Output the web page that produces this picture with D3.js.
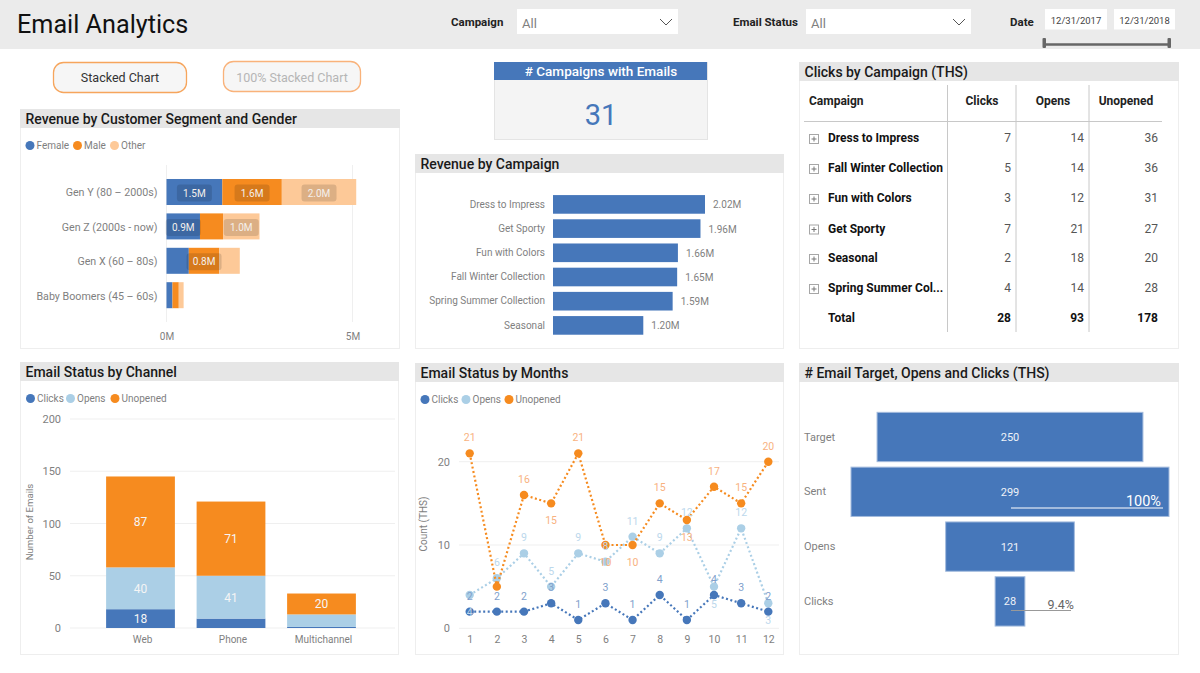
<!DOCTYPE html>
<html>
<head>
<meta charset="utf-8">
<script src="https://cdn.jsdelivr.net/npm/d3@7"></script>
<style>
  html, body { margin: 0; padding: 0; background: #fff; overflow: hidden; }
  text { font-family: Roboto, sans-serif; }
</style>
</head>
<body>
<div id="dash"></div>
<script>
// data
const segments = ["Gen Y (80 – 2000s)", "Gen Z (2000s - now)", "Gen X (60 – 80s)", "Baby Boomers (45 – 60s)"];
const female = [1.5, 0.9, 0.6, 0.16];
const male = [1.6, 0.62, 0.82, 0.17];
const other = [2.0, 0.98, 0.55, 0.13];
const genderKeys = ["Female", "Male", "Other"];
const genderTicks = [0, 5];

const campaignsByRevenue = ["Dress to Impress", "Get Sporty", "Fun with Colors", "Fall Winter Collection", "Spring Summer Collection", "Seasonal"];
const campaignRevenue = [2.02, 1.96, 1.66, 1.65, 1.59, 1.20];

const tableColumns = ["Campaign", "Clicks", "Opens", "Unopened"];
const tableCampaigns = ["Dress to Impress", "Fall Winter Collection", "Fun with Colors", "Get Sporty", "Seasonal", "Spring Summer Col..."];
const tableClicks = [7, 5, 3, 7, 2, 4];
const tableOpens = [14, 14, 12, 21, 18, 14];
const tableUnopened = [36, 36, 31, 27, 20, 28];
const tableTotals = [28, 93, 178];

const channels = ["Web", "Phone", "Multichannel"];
const channelClicks = [18, 9, 1];
const channelOpens = [40, 41, 12];
const channelUnopened = [87, 71, 20];
const channelTicks = [0, 50, 100, 150, 200];
const statusKeys = ["Clicks", "Opens", "Unopened"];

const months = [1, 2, 3, 4, 5, 6, 7, 8, 9, 10, 11, 12];
const monthClicks = [2, 2, 2, 3, 1, 3, 1, 4, 1, 4, 3, 2];
const monthOpens = [4, 6, 9, 5, 9, 8, 11, 9, 12, 5, 12, 3];
const monthUnopened = [21, 5, 16, 15, 21, 10, 10, 15, 13, 17, 15, 20];
const monthTicks = [0, 10, 20];

const funnelStages = ["Target", "Sent", "Opens", "Clicks"];
const funnelValues = [250, 299, 121, 28];

// colours
const blue = "#4677ba", orange = "#f68b1f", paleOrange = "#fdc998", paleBlue = "#abcfe6";
const grey = "#7f7f7f", headFill = "#e6e6e6", gridCol = "#efefef", frameCol = "#eeeeee";

const svg = d3.select("#dash").append("svg")
    .attr("width", 1200)
    .attr("height", 673);

function label(g, x, y, txt, size, fill, anchor, weight) {
  return g.append("text")
    .attr("x", x).attr("y", y)
    .attr("text-anchor", anchor || "start")
    .attr("font-size", size)
    .attr("font-weight", weight || 400)
    .attr("fill", fill)
    .text(txt);
}

function panel(x0, x1, y0, y1, title) {
  svg.append("rect").attr("x", x0 + .5).attr("y", y0 + .5).attr("width", x1 - x0).attr("height", y1 - y0)
    .attr("fill", "#fff").attr("stroke", frameCol);
  svg.append("rect").attr("x", x0).attr("y", y0).attr("width", x1 - x0 + 1).attr("height", 19).attr("fill", headFill);
  label(svg, x0 + 5.5, y0 + 15, title, 14, "#1a1a1a", "start", 500);
}

function legend(items, y) {
  items.forEach(d => {
    svg.append("circle").attr("cx", d.cx).attr("cy", y).attr("r", 4.5).attr("fill", d.color);
    label(svg, d.cx + 6.5, y + 3.6, d.name, 10, grey);
  });
}

function cleanAxis(g, size) {
  g.select(".domain").remove();
  g.selectAll(".tick line").remove();
  g.selectAll("text").attr("font-size", size).attr("fill", grey);
}

// header band
svg.append("rect").attr("width", 1200).attr("height", 49).attr("fill", "#ebebeb");
label(svg, 17, 33, "Email Analytics", 25.2, "#111");

function slicer(name, nameX, x0, x1) {
  label(svg, nameX, 26, name, 11.5, "#222", "start", 700);
  svg.append("rect").attr("x", x0).attr("y", 9).attr("width", x1 - x0).attr("height", 25).attr("fill", "#fff");
  label(svg, x0 + 5, 28, "All", 13, grey);
  svg.append("path").attr("d", `M${x1 - 18},19 l6,6 l6,-6`).attr("fill", "none").attr("stroke", "#555");
}
slicer("Campaign", 451, 517, 678);
slicer("Email Status", 733, 806, 971);
label(svg, 1010, 26, "Date", 11.5, "#222", "start", 700);
[[1045, 1107, "12/31/2017"], [1114, 1175, "12/31/2018"]].forEach(d => {
  svg.append("rect").attr("x", d[0]).attr("y", 9).attr("width", d[1] - d[0]).attr("height", 20.5).attr("fill", "#fff");
  label(svg, (d[0] + d[1]) / 2, 24, d[2], 9.5, "#444", "middle");
});
svg.append("line").attr("x1", 1044).attr("x2", 1169).attr("y1", 44.5).attr("y2", 44.5).attr("stroke", "#666").attr("stroke-width", 2.5);
[1044, 1169].forEach(x => svg.append("rect").attr("x", x - 1.5).attr("y", 38).attr("width", 3.5).attr("height", 10).attr("rx", 1).attr("fill", "#666"));

// buttons
svg.append("rect").attr("x", 53.5).attr("y", 62.5).attr("width", 133).attr("height", 30).attr("rx", 10)
  .attr("fill", "#f6f6f6").attr("stroke", "#f6a55c").attr("stroke-width", 1.3);
label(svg, 120, 82, "Stacked Chart", 12.5, "#333", "middle");
svg.append("rect").attr("x", 223.5).attr("y", 61.5).attr("width", 137).attr("height", 30).attr("rx", 10)
  .attr("fill", "#f6f6f6").attr("stroke", "#f9b27a").attr("stroke-width", 1.3);
label(svg, 292, 82, "100% Stacked Chart", 12.5, "#b5b5b5", "middle");

// card
svg.append("rect").attr("x", 494.5).attr("y", 62.5).attr("width", 213).attr("height", 77).attr("fill", "#f4f4f4").attr("stroke", "#e4e4e4");
svg.append("rect").attr("x", 494).attr("y", 62).attr("width", 213).attr("height", 18).attr("fill", blue);
label(svg, 601, 76, "# Campaigns with Emails", 13.5, "#fff", "middle", 500);
label(svg, 601, 125, "31", 29, blue, "middle");

// Revenue by Customer Segment and Gender
panel(20, 399, 109, 348, "Revenue by Customer Segment and Gender");
legend([{cx: 30, name: "Female", color: blue}, {cx: 77.5, name: "Male", color: orange}, {cx: 114.5, name: "Other", color: paleOrange}], 145.5);

const genderRows = segments.map((s, i) => ({segment: s, Female: female[i], Male: male[i], Other: other[i]}));
const genderStack = d3.stack().keys(genderKeys)(genderRows);
const xGender = d3.scaleLinear().domain([0, 5]).range([166.5, 352.5]);
const yGender = d3.scaleBand().domain(segments).range([174.8, 312.4]).paddingInner(.244).paddingOuter(.122);
const genderColor = d3.scaleOrdinal().domain(genderKeys).range([blue, orange, paleOrange]);

svg.append("g").selectAll("line").data(genderTicks).join("line")
    .attr("x1", d => xGender(d)).attr("x2", d => xGender(d))
    .attr("y1", 165).attr("y2", 322)
    .attr("stroke", gridCol);
svg.append("g").selectAll("g").data(genderStack).join("g")
    .attr("fill", d => genderColor(d.key))
  .selectAll("rect").data(d => d).join("rect")
    .attr("x", d => xGender(d[0]))
    .attr("y", d => yGender(d.data.segment))
    .attr("width", d => xGender(d[1]) - xGender(d[0]))
    .attr("height", yGender.bandwidth());

// only these segments carry a label in the picture
const genderLabelled = [[0, 0], [1, 0], [2, 0], [0, 1], [2, 1], [1, 2]];
genderLabelled.forEach(([k, r]) => {
  const d = genderStack[k][r];
  const cx = (xGender(d[0]) + xGender(d[1])) / 2;
  const cy = yGender(d.data.segment) + yGender.bandwidth() / 2 + 1;
  svg.append("rect").attr("x", cx - 17.5).attr("y", cy - 8.5).attr("width", 35).attr("height", 17).attr("rx", 3)
    .attr("fill", "#000").attr("fill-opacity", .13);
  label(svg, cx, cy + 3.6, (d[1] - d[0]).toFixed(1) + "M", 10, "#f4f0ec", "middle");
});
svg.append("g").attr("transform", "translate(166.5,1)")
  .call(d3.axisLeft(yGender).tickPadding(3))
  .call(g => cleanAxis(g, 10.7));
svg.append("g").attr("transform", "translate(0,324)")
  .call(d3.axisBottom(xGender).tickValues(genderTicks).tickFormat(d => d + "M"))
  .call(g => cleanAxis(g, 10));

// Revenue by Campaign
panel(415, 783, 154, 348, "Revenue by Campaign");
const xCampaign = d3.scaleLinear().domain([0, 2.02]).range([553, 705]);
const yCampaign = d3.scaleBand().domain(campaignsByRevenue).range([192.3, 337.5]).paddingInner(.23).paddingOuter(.115);
svg.append("g").selectAll("rect").data(campaignRevenue).join("rect")
    .attr("x", xCampaign(0))
    .attr("y", (d, i) => yCampaign(campaignsByRevenue[i]))
    .attr("width", d => xCampaign(d) - xCampaign(0))
    .attr("height", yCampaign.bandwidth())
    .attr("fill", blue);
svg.append("g").selectAll("text").data(campaignRevenue).join("text")
    .attr("x", d => xCampaign(d) + 8)
    .attr("y", (d, i) => yCampaign(campaignsByRevenue[i]) + yCampaign.bandwidth() / 2 + 4)
    .attr("font-size", 10).attr("fill", grey)
    .text(d => d.toFixed(2) + "M");
svg.append("g").attr("transform", "translate(553,0)")
  .call(d3.axisLeft(yCampaign).tickPadding(2))
  .call(g => cleanAxis(g, 10));

// Clicks by Campaign table
panel(799, 1178, 62, 348, "Clicks by Campaign (THS)");
const colSep = [947.5, 1016, 1089];
const rowY = [142, 172, 202, 232.5, 262, 292];
colSep.forEach(x => svg.append("line").attr("x1", x).attr("x2", x).attr("y1", 85).attr("y2", 332).attr("stroke", "#c8c8c8"));
svg.append("line").attr("x1", 804).attr("x2", 1162).attr("y1", 121.5).attr("y2", 121.5).attr("stroke", "#c8c8c8");
label(svg, 809, 105, tableColumns[0], 12, "#222", "start", 700);
label(svg, 982, 105, tableColumns[1], 12, "#222", "middle", 700);
label(svg, 1053, 105, tableColumns[2], 12, "#222", "middle", 700);
label(svg, 1126, 105, tableColumns[3], 12, "#222", "middle", 700);
tableCampaigns.forEach((name, i) => {
  const y = rowY[i];
  svg.append("rect").attr("x", 809.5).attr("y", y - 7.5).attr("width", 9).attr("height", 9).attr("fill", "#fff").attr("stroke", "#a6a6a6");
  svg.append("path").attr("d", `M811.5,${y - 3}h5M814,${y - 5.5}v5`).attr("stroke", "#777").attr("fill", "none");
  label(svg, 828, y, name, 12, "#111", "start", 700);
  label(svg, 1011, y, tableClicks[i], 12, "#555", "end");
  label(svg, 1084, y, tableOpens[i], 12, "#555", "end");
  label(svg, 1158, y, tableUnopened[i], 12, "#555", "end");
});
label(svg, 828, 322, "Total", 12, "#111", "start", 700);
[1011, 1084, 1158].forEach((x, i) => label(svg, x, 322, tableTotals[i], 12, "#111", "end", 700));

// Email Status by Channel
panel(20, 398, 362, 654, "Email Status by Channel");
legend([{cx: 30.5, name: "Clicks", color: blue}, {cx: 70.5, name: "Opens", color: paleBlue}, {cx: 115, name: "Unopened", color: orange}], 398.5);

const channelRows = channels.map((c, i) => ({channel: c, Clicks: channelClicks[i], Opens: channelOpens[i], Unopened: channelUnopened[i]}));
const channelStack = d3.stack().keys(statusKeys)(channelRows);
const xChannel = d3.scaleBand().domain(channels).range([95.25, 366.75]).paddingInner(.24).paddingOuter(.12);
const yChannel = d3.scaleLinear().domain([0, 200]).range([628, 419]);
const statusColor = d3.scaleOrdinal().domain(statusKeys).range([blue, paleBlue, orange]);

svg.append("g").selectAll("line").data(channelTicks).join("line")
    .attr("x1", 70).attr("x2", 395)
    .attr("y1", d => yChannel(d)).attr("y2", d => yChannel(d))
    .attr("stroke", gridCol);
svg.append("g").selectAll("g").data(channelStack).join("g")
    .attr("fill", d => statusColor(d.key))
  .selectAll("rect").data(d => d).join("rect")
    .attr("x", d => xChannel(d.data.channel))
    .attr("y", d => yChannel(d[1]))
    .attr("width", xChannel.bandwidth())
    .attr("height", d => yChannel(d[0]) - yChannel(d[1]));
// segments too thin in the picture have no label
const channelLabelled = [[0, 0], [1, 0], [2, 0], [1, 1], [2, 1], [2, 2]];
channelLabelled.forEach(([k, r]) => {
  const d = channelStack[k][r];
  label(svg, xChannel(d.data.channel) + xChannel.bandwidth() / 2, (yChannel(d[0]) + yChannel(d[1])) / 2 + 4.5, d[1] - d[0], 12, "#f5f5f5", "middle");
});
svg.append("g").attr("transform", "translate(66,0)")
  .call(d3.axisLeft(yChannel).tickValues(channelTicks).tickPadding(-1))
  .call(g => cleanAxis(g, 11));
svg.append("g").attr("transform", "translate(2,628)")
  .call(d3.axisBottom(xChannel).tickPadding(2))
  .call(g => cleanAxis(g, 10));
label(svg, 0, 0, "Number of Emails", 9.6, grey, "middle").attr("transform", "translate(33,522) rotate(-90)");

// Email Status by Months
panel(415, 783, 363, 654, "Email Status by Months");
legend([{cx: 425, name: "Clicks", color: blue}, {cx: 466, name: "Opens", color: paleBlue}, {cx: 509, name: "Unopened", color: orange}], 399.5);

const xMonth = d3.scalePoint().domain(months).range([469.7, 768.3]);
const yMonth = d3.scaleLinear().domain([0, 20]).range([628.3, 461.7]);
svg.append("g").selectAll("line").data(monthTicks).join("line")
    .attr("x1", 459).attr("x2", 779)
    .attr("y1", d => yMonth(d)).attr("y2", d => yMonth(d))
    .attr("stroke", gridCol);
svg.append("g").attr("transform", "translate(459,0)")
  .call(d3.axisLeft(yMonth).tickValues(monthTicks).tickPadding(3))
  .call(g => cleanAxis(g, 11));
svg.append("g").attr("transform", "translate(0,628)")
  .call(d3.axisBottom(xMonth).tickPadding(2))
  .call(g => cleanAxis(g, 10.5));
label(svg, 0, 0, "Count (THS)", 10, grey, "middle").attr("transform", "translate(427,524) rotate(-90)");

// months whose label sits under the point, and the one the picture leaves out
const monthSeries = [
  {values: monthOpens, color: paleBlue, text: "#bcd8ec", below: [1, 10, 12], hidden: []},
  {values: monthUnopened, color: orange, text: "#f8b27f", below: [4, 6, 7, 9], hidden: [2]},
  {values: monthClicks, color: blue, text: "#7f9fcc", below: [], hidden: []}
];
const monthLine = d3.line().x((d, i) => xMonth(months[i])).y(d => yMonth(d));
monthSeries.forEach(s => {
  svg.append("path").attr("d", monthLine(s.values))
    .attr("fill", "none").attr("stroke", s.color).attr("stroke-width", 2.2).attr("stroke-dasharray", "2 2.5");
  svg.append("g").selectAll("circle").data(s.values).join("circle")
    .attr("cx", (d, i) => xMonth(months[i]))
    .attr("cy", d => yMonth(d))
    .attr("r", 4.2)
    .attr("fill", s.color);
});
monthSeries.forEach(s => {
  svg.append("g").selectAll("text").data(s.values).join("text")
    .attr("x", (d, i) => xMonth(months[i]))
    .attr("y", (d, i) => yMonth(d) + (s.below.includes(months[i]) ? 21 : -12))
    .attr("text-anchor", "middle")
    .attr("font-size", 10.5)
    .attr("fill", s.text)
    .text((d, i) => s.hidden.includes(months[i]) ? "" : d);
});

// # Email Target, Opens and Clicks
panel(799, 1178, 363, 654, "# Email Target, Opens and Clicks (THS)");
const wFunnel = d3.scaleLinear().domain([0, 299]).range([0, 318]);
const yFunnel = d3.scaleBand().domain(funnelStages).range([409.6, 628.8]).paddingInner(.1).paddingOuter(.05);
const funnelMid = 1010;
svg.append("g").selectAll("rect").data(funnelValues).join("rect")
    .attr("x", d => funnelMid - wFunnel(d) / 2)
    .attr("y", (d, i) => yFunnel(funnelStages[i]))
    .attr("width", d => wFunnel(d))
    .attr("height", yFunnel.bandwidth())
    .attr("fill", blue)
    .attr("stroke", "#a3bbdd");
svg.append("g").selectAll("text").data(funnelValues).join("text")
    .attr("x", funnelMid)
    .attr("y", (d, i) => yFunnel(funnelStages[i]) + yFunnel.bandwidth() / 2 + 4)
    .attr("text-anchor", "middle")
    .attr("font-size", 11).attr("fill", "#eef2f8")
    .text(d => d);
svg.append("g").attr("transform", "translate(798,0)")
  .call(d3.axisRight(yFunnel).tickPadding(0))
  .call(g => cleanAxis(g, 11));
svg.append("line").attr("x1", 1011).attr("x2", 1163).attr("y1", 508).attr("y2", 508).attr("stroke", "#fff").attr("stroke-width", 1.2);
label(svg, 1161, 506, "100%", 14.5, "#fff", "end");
svg.append("line").attr("x1", 1011).attr("x2", 1071).attr("y1", 610.5).attr("y2", 610.5).attr("stroke", "#999").attr("stroke-width", 1.2);
label(svg, 1074, 609, "9.4%", 12.5, "#666", "end");
</script>
</body>
</html>
